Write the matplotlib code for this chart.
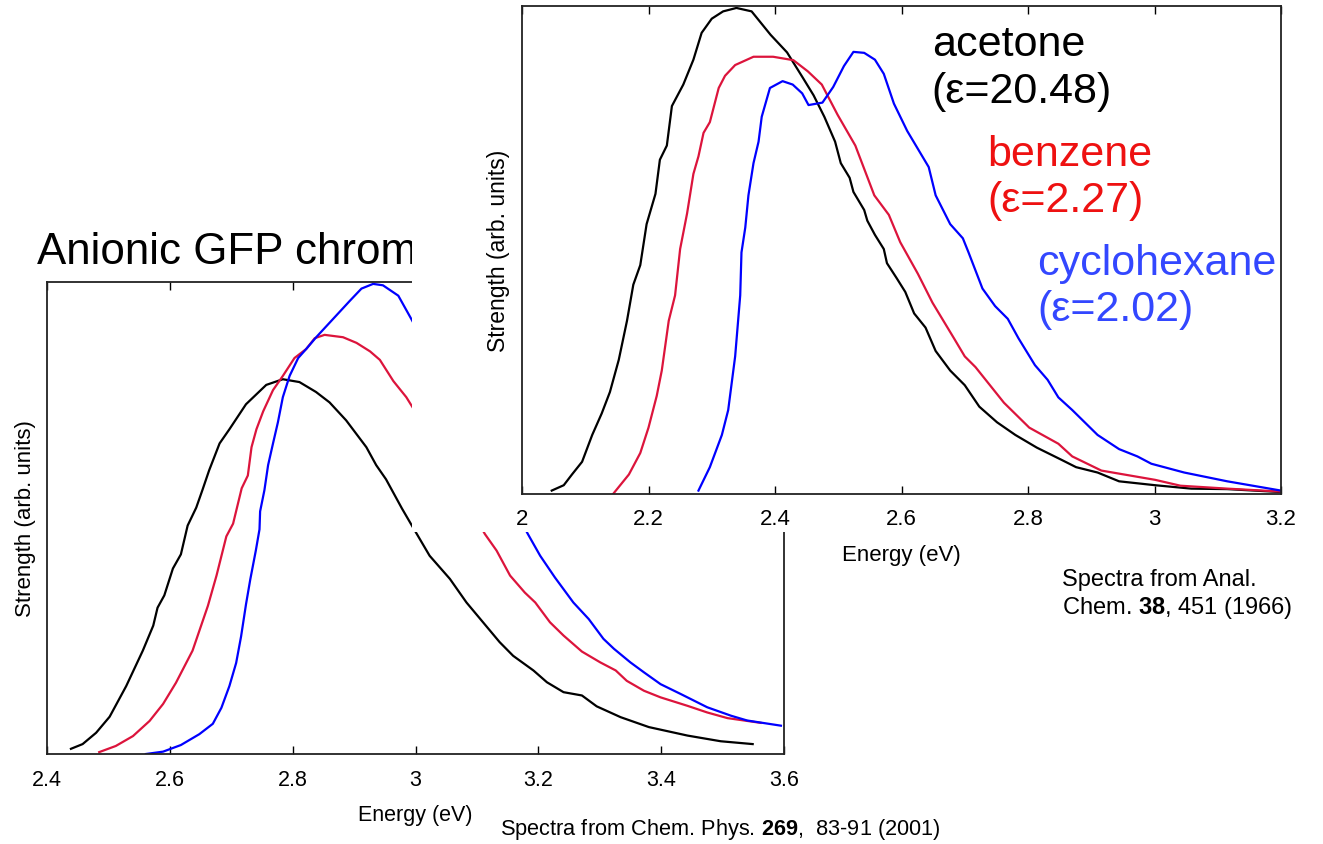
import matplotlib
matplotlib.use("Agg")
import matplotlib.pyplot as plt
from matplotlib.patches import Rectangle

plt.rcParams['font.family'] = ['Liberation Sans', 'DejaVu Sans']
plt.rcParams['mathtext.fontset'] = 'custom'
plt.rcParams['mathtext.rm'] = 'Liberation Sans'
plt.rcParams['mathtext.bf'] = 'Liberation Sans:bold'

# --- anionic GFP chromophore, Chem. Phys. 269 (2001) ---
gfp_acetone_e = [2.439, 2.458, 2.480, 2.502, 2.529, 2.556, 2.573, 2.580, 2.591, 2.605,
                 2.618, 2.629, 2.643, 2.653, 2.664, 2.681, 2.697, 2.724, 2.757, 2.784,
                 2.811, 2.838, 2.860, 2.887, 2.920, 2.936, 2.952, 2.978, 2.995, 3.023,
                 3.056, 3.083, 3.110, 3.137, 3.159, 3.192, 3.214, 3.241, 3.271, 3.295,
                 3.334, 3.380, 3.443, 3.497, 3.549]
gfp_acetone_s = [0.011, 0.021, 0.045, 0.079, 0.144, 0.219, 0.272, 0.310, 0.336, 0.393,
                 0.423, 0.484, 0.522, 0.559, 0.601, 0.658, 0.688, 0.741, 0.782, 0.794,
                 0.788, 0.767, 0.745, 0.707, 0.650, 0.612, 0.582, 0.520, 0.482, 0.420,
                 0.371, 0.321, 0.279, 0.237, 0.208, 0.177, 0.152, 0.131, 0.124, 0.101,
                 0.078, 0.057, 0.039, 0.027, 0.021]

gfp_benzene_e = [2.485, 2.512, 2.540, 2.567, 2.589, 2.610, 2.637, 2.662, 2.676, 2.692,
                 2.703, 2.717, 2.727, 2.733, 2.741, 2.752, 2.768, 2.784, 2.803, 2.822,
                 2.836, 2.852, 2.882, 2.904, 2.926, 2.942, 2.964, 2.985, 2.996, 3.113,
                 3.132, 3.154, 3.178, 3.195, 3.219, 3.241, 3.271, 3.301, 3.326, 3.344,
                 3.372, 3.399, 3.443, 3.475, 3.508, 3.562]
gfp_benzene_s = [0.004, 0.017, 0.038, 0.070, 0.106, 0.151, 0.219, 0.314, 0.378, 0.461,
                 0.488, 0.563, 0.590, 0.650, 0.688, 0.726, 0.771, 0.801, 0.839, 0.858,
                 0.881, 0.888, 0.883, 0.871, 0.853, 0.835, 0.790, 0.756, 0.733, 0.466,
                 0.431, 0.378, 0.342, 0.321, 0.279, 0.251, 0.217, 0.194, 0.177, 0.155,
                 0.134, 0.120, 0.102, 0.088, 0.076, 0.066]

gfp_cyclohex_e = [2.561, 2.589, 2.618, 2.648, 2.670, 2.684, 2.697, 2.708, 2.716, 2.724,
                  2.731, 2.740, 2.746, 2.747, 2.754, 2.760, 2.768, 2.776, 2.784, 2.795,
                  2.809, 2.822, 2.839, 2.866, 2.893, 2.912, 2.931, 2.947, 2.972, 2.993,
                  3.183, 3.203, 3.227, 3.257, 3.282, 3.306, 3.323, 3.350, 3.372, 3.399,
                  3.432, 3.475, 3.514, 3.540, 3.595]
gfp_cyclohex_s = [0.000, 0.005, 0.019, 0.042, 0.064, 0.098, 0.144, 0.193, 0.249, 0.317,
                  0.370, 0.431, 0.476, 0.514, 0.559, 0.612, 0.658, 0.703, 0.756, 0.801,
                  0.839, 0.858, 0.884, 0.922, 0.960, 0.986, 0.996, 0.993, 0.971, 0.922,
                  0.466, 0.420, 0.374, 0.321, 0.286, 0.244, 0.223, 0.194, 0.173, 0.148,
                  0.127, 0.099, 0.081, 0.071, 0.060]

gfp_ticks = [2.4, 2.6, 2.8, 3.0, 3.2, 3.4, 3.6]
gfp_ticklabels = ['2.4', '2.6', '2.8', '3', '3.2', '3.4', '3.6']

# --- Anal. Chem. 38 (1966) spectra ---
ac_acetone_e = [2.047, 2.066, 2.079, 2.095, 2.111, 2.126, 2.139, 2.153, 2.166, 2.176,
                2.187, 2.197, 2.211, 2.218, 2.229, 2.237, 2.255, 2.271, 2.284, 2.300,
                2.318, 2.339, 2.363, 2.393, 2.419, 2.444, 2.461, 2.478, 2.495, 2.504,
                2.518, 2.524, 2.541, 2.546, 2.558, 2.572, 2.577, 2.592, 2.606, 2.620,
                2.638, 2.654, 2.677, 2.700, 2.723, 2.751, 2.780, 2.814, 2.853, 2.876,
                2.910, 2.944, 3.001, 3.058, 3.115, 3.200]
ac_acetone_s = [0.007, 0.018, 0.040, 0.066, 0.121, 0.165, 0.209, 0.275, 0.355, 0.429,
                0.469, 0.553, 0.615, 0.685, 0.714, 0.795, 0.839, 0.890, 0.945, 0.974,
                0.989, 0.996, 0.989, 0.941, 0.905, 0.853, 0.817, 0.773, 0.722, 0.678,
                0.648, 0.619, 0.582, 0.560, 0.531, 0.502, 0.473, 0.443, 0.414, 0.370,
                0.341, 0.293, 0.253, 0.223, 0.179, 0.147, 0.121, 0.095, 0.070, 0.055,
                0.044, 0.026, 0.018, 0.011, 0.010, 0.004]

ac_benzene_e = [2.144, 2.169, 2.187, 2.200, 2.213, 2.221, 2.232, 2.242, 2.250, 2.261,
                2.271, 2.279, 2.287, 2.297, 2.311, 2.321, 2.337, 2.366, 2.397, 2.429,
                2.452, 2.474, 2.499, 2.527, 2.557, 2.580, 2.598, 2.626, 2.649, 2.683,
                2.700, 2.717, 2.762, 2.802, 2.848, 2.870, 2.916, 3.001, 3.041, 3.115,
                3.200]
ac_benzene_s = [0.000, 0.040, 0.084, 0.136, 0.201, 0.253, 0.355, 0.407, 0.502, 0.575,
                0.656, 0.692, 0.740, 0.762, 0.832, 0.857, 0.879, 0.896, 0.896, 0.889,
                0.866, 0.839, 0.777, 0.714, 0.612, 0.572, 0.516, 0.451, 0.392, 0.319,
                0.282, 0.260, 0.187, 0.136, 0.103, 0.077, 0.048, 0.029, 0.017, 0.011,
                0.005]

ac_cyclohex_e = [2.279, 2.297, 2.316, 2.326, 2.337, 2.345, 2.347, 2.353, 2.358, 2.366,
                 2.374, 2.379, 2.392, 2.412, 2.428, 2.443, 2.453, 2.475, 2.492, 2.509,
                 2.524, 2.541, 2.558, 2.572, 2.588, 2.609, 2.626, 2.643, 2.654, 2.677,
                 2.697, 2.706, 2.717, 2.728, 2.748, 2.768, 2.785, 2.811, 2.831, 2.848,
                 2.870, 2.910, 2.944, 2.973, 2.995, 3.047, 3.115, 3.200]
ac_cyclohex_s = [0.007, 0.055, 0.121, 0.172, 0.282, 0.407, 0.495, 0.546, 0.612, 0.678,
                 0.722, 0.773, 0.832, 0.846, 0.839, 0.821, 0.797, 0.802, 0.834, 0.877,
                 0.906, 0.904, 0.890, 0.861, 0.800, 0.744, 0.707, 0.670, 0.612, 0.553,
                 0.524, 0.495, 0.458, 0.421, 0.385, 0.359, 0.319, 0.264, 0.234, 0.198,
                 0.172, 0.121, 0.092, 0.077, 0.062, 0.044, 0.026, 0.007]

ac_ticks = [2.0, 2.2, 2.4, 2.6, 2.8, 3.0, 3.2]
ac_ticklabels = ['2', '2.2', '2.4', '2.6', '2.8', '3', '3.2']

solvent_labels = ['acetone\n(\u03b5=20.48)', 'benzene\n(\u03b5=2.27)',
                  'cyclohexane\n(\u03b5=2.02)']

W, H = 1323, 845
fig = plt.figure(figsize=(W / 100, H / 100), dpi=100)


def px_axes(x0, y0, x1, y1):
    # pixel box (top-left origin) -> figure fraction rect
    return [x0 / W, 1 - y1 / H, (x1 - x0) / W, (y1 - y0) / H]


def style(ax, fs, pad):
    for sp in ax.spines.values():
        sp.set_linewidth(1.3)
        sp.set_color('#222222')
    ax.tick_params(axis='x', direction='in', top=True, length=6, width=1,
                   labelsize=fs, pad=pad)
    ax.tick_params(axis='y', left=False, labelleft=False)
    ax.set_ylim(0, 1)


# back panel
ax1 = fig.add_axes(px_axes(47, 283, 784, 755))
ax1.plot(gfp_acetone_e, gfp_acetone_s, color='black', lw=1.6)
ax1.plot(gfp_benzene_e, gfp_benzene_s, color='#dc143c', lw=1.6)
ax1.plot(gfp_cyclohex_e, gfp_cyclohex_s, color='#0000ff', lw=1.6)
ax1.set_xlim(2.4, 3.6)
ax1.set_xticks(gfp_ticks)
ax1.set_xticklabels(gfp_ticklabels)
style(ax1, 15.5, 11)
ax1.set_xlabel('Energy (eV)', fontsize=15.5, labelpad=10)
ax1.set_ylabel('Strength (arb. units)', fontsize=16, labelpad=8)
ax1.set_zorder(0)

# title of the back panel, cut off by the card laid over it
fig.text(37 / W, 1 - 253 / H, 'Anionic GFP chrom', fontsize=31.6,
         ha='left', va='center', zorder=0.5)

# white card under the front panel
fig.add_artist(Rectangle((412 / W, 1 - 533 / H), 1 - 412 / W, 533 / H,
                         transform=fig.transFigure, facecolor='white',
                         edgecolor='none', zorder=1))

# front panel
ax2 = fig.add_axes(px_axes(522, 7, 1281, 495))
ax2.plot(ac_acetone_e, ac_acetone_s, color='black', lw=1.6)
ax2.plot(ac_benzene_e, ac_benzene_s, color='#dc143c', lw=1.6)
ax2.plot(ac_cyclohex_e, ac_cyclohex_s, color='#0000ff', lw=1.6)
ax2.set_xlim(2.0, 3.2)
ax2.set_xticks(ac_ticks)
ax2.set_xticklabels(ac_ticklabels)
style(ax2, 16, 10)
ax2.set_xlabel('Energy (eV)', fontsize=16, labelpad=11)
ax2.set_ylabel('Strength (arb. units)', fontsize=16.5, labelpad=9)
ax2.set_zorder(2)

label_pos = [(0.540, 0.874), (0.613, 0.649), (0.679, 0.427)]
label_col = ['black', '#ee1111', '#3347ff']
for txt, (lx, ly), c in zip(solvent_labels, label_pos, label_col):
    ax2.text(lx, ly, txt, transform=ax2.transAxes, fontsize=31, color=c,
             ha='left', va='center', linespacing=1.2, clip_on=False)

fig.text(1062 / W, 1 - 595 / H,
         'Spectra from Anal.\nChem. $\\mathbf{38}$, 451 (1966)',
         fontsize=17, ha='left', va='center', linespacing=1.2, zorder=3)
fig.text(500 / W, 1 - 830 / H,
         'Spectra from Chem. Phys. $\\mathbf{269}$,  83-91 (2001)',
         fontsize=15.7, ha='left', va='center', zorder=3)

fig.savefig('out.png', dpi=100, facecolor='white')
